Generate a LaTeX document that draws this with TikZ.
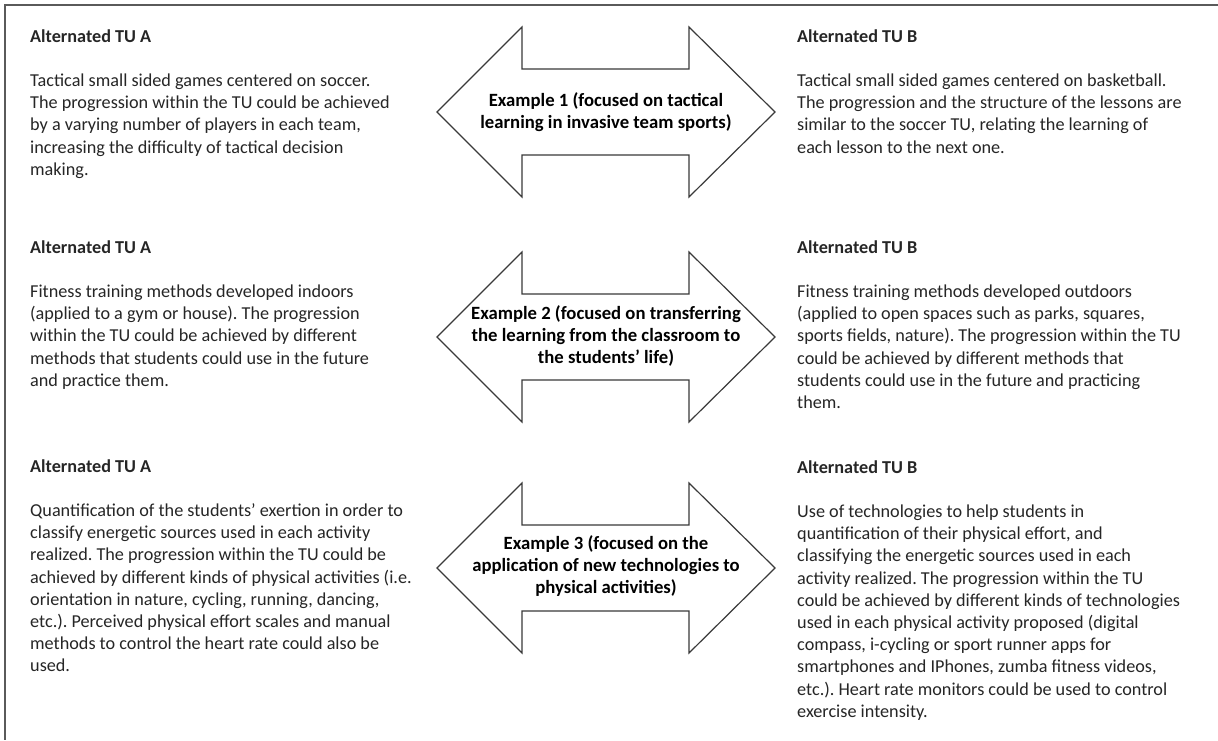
\documentclass[tikz,border=0pt]{standalone}
\usepackage{fontspec}
\setmainfont{Carlito}
\frenchspacing
\definecolor{txt}{HTML}{262626}
\definecolor{framec}{HTML}{5A5A5A}
\definecolor{arrowc}{HTML}{3A3A3A}
\newcommand{\blocktext}[1]{\parbox[t]{460pt}{\fontsize{18.2pt}{22.2pt}\selectfont\frenchspacing\raggedright #1}}
\newcommand{\labeltext}[1]{\parbox[t]{330pt}{\fontsize{18.7pt}{22.2pt}\selectfont\frenchspacing\bfseries\centering #1}}
\newcommand{\dblarrow}[1]{%
  \draw[arrowshape] (437,#1) -- (522,{#1-85}) -- (522,{#1-43}) -- (689,{#1-43}) -- (689,{#1-85})
    -- (775,#1) -- (689,{#1+85}) -- (689,{#1+43}) -- (522,{#1+43}) -- (522,{#1+85}) -- cycle;}
\tikzset{
  textblk/.style={anchor=base west, inner sep=0pt, text=txt},
  arrowlabel/.style={anchor=base, inner sep=0pt, text=black},
  arrowshape/.style={draw=arrowc, line width=1.2pt, fill=white, line join=miter},
  framing/.style={draw=framec, line width=1.8pt}
}
\begin{document}
\begin{tikzpicture}[x=1pt, y=-1pt]
\useasboundingbox (0,0) rectangle (1218,740);
\fill[white] (0,0) rectangle (1218,740);
\coordinate (tl) at (5,5);
\coordinate (tr) at (1218,5);
\coordinate (bl) at (5,740);
\draw[framing] (tr) -- (tl) -- (bl);

% arrows
\dblarrow{112}
\dblarrow{337}
\dblarrow{568}

% arrow labels
\node[arrowlabel] (ex1) at (606,106) {\labeltext{Example 1 (focused on tactical\\ learning in invasive team sports)}};
\node[arrowlabel] (ex2) at (606,319) {\labeltext{Example 2 (focused on transferring\\ the learning from the classroom to\\ the students’ life)}};
\node[arrowlabel] (ex3) at (606,549) {\labeltext{Example 3 (focused on the\\ application of new technologies to\\ physical activities)}};

% left column
\node[textblk] (a1) at (30,42) {\blocktext{\textbf{Alternated TU A}\\[22.2pt]
Tactical small sided games centered on soccer.\\
The progression within the TU could be achieved\\
by a varying number of players in each team,\\
increasing the difficulty of tactical decision\\
making.}};
\node[textblk] (a2) at (30,253) {\blocktext{\textbf{Alternated TU A}\\[22.2pt]
Fitness training methods developed indoors\\
(applied to a gym or house). The progression\\
within the TU could be achieved by different\\
methods that students could use in the future\\
and practice them.}};
\node[textblk] (a3) at (30,472) {\blocktext{\textbf{Alternated TU A}\\[22.2pt]
Quantification of the students’ exertion in order to\\
classify energetic sources used in each activity\\
realized. The progression within the TU could be\\
achieved by different kinds of physical activities (i.e.\\
orientation in nature, cycling, running, dancing,\\
etc.). Perceived physical effort scales and manual\\
methods to control the heart rate could also be\\
used.}};

% right column
\node[textblk] (b1) at (797,42) {\blocktext{\textbf{Alternated TU B}\\[22.2pt]
Tactical small sided games centered on basketball.\\
The progression and the structure of the lessons are\\
similar to the soccer TU, relating the learning of\\
each lesson to the next one.}};
\node[textblk] (b2) at (797,253) {\blocktext{\textbf{Alternated TU B}\\[22.2pt]
Fitness training methods developed outdoors\\
(applied to open spaces such as parks, squares,\\
sports fields, nature). The progression within the TU\\
could be achieved by different methods that\\
students could use in the future and practicing\\
them.}};
\node[textblk] (b3) at (797,473) {\blocktext{\textbf{Alternated TU B}\\[22.2pt]
Use of technologies to help students in\\
quantification of their physical effort, and\\
classifying the energetic sources used in each\\
activity realized. The progression within the TU\\
could be achieved by different kinds of technologies\\
used in each physical activity proposed (digital\\
compass, i-cycling or sport runner apps for\\
smartphones and IPhones, zumba fitness videos,\\
etc.). Heart rate monitors could be used to control\\
exercise intensity.}};
\end{tikzpicture}
\end{document}
